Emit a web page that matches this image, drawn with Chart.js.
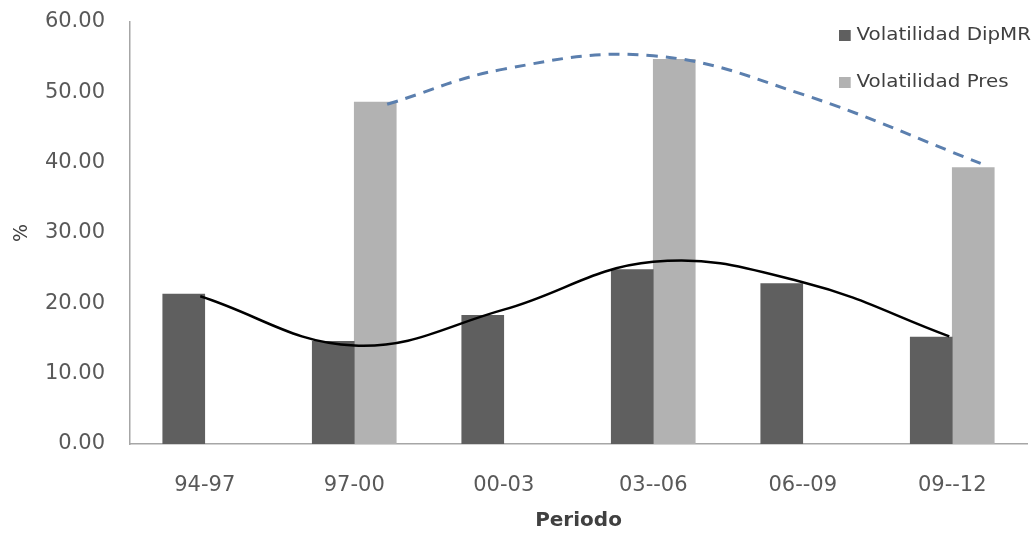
<!DOCTYPE html>
<html>
<head>
<meta charset="utf-8">
<script src="https://cdn.jsdelivr.net/npm/chart.js@4.4.1/dist/chart.umd.min.js"></script>
<style>
  body { margin: 0; background: #fff; }
  #wrap { position: relative; width: 1035px; height: 533px; }
  .leg { position: absolute; left: 839px; font: 17px "DejaVu Sans", sans-serif; color: #404040; white-space: nowrap; transform: scaleX(1.17); transform-origin: 0 0; }
  .leg span { display: inline-block; width: 10px; height: 11px; margin-right: 5px; vertical-align: -1px; }
</style>
</head>
<body>
<div id="wrap">
  <canvas id="myChart" width="1035" height="533"></canvas>
  <div class="leg" style="top:24px"><span style="background:#5f5f5f"></span>Volatilidad DipMR</div>
  <div class="leg" style="top:71px"><span style="background:#b2b2b2"></span>Volatilidad Pres</div>
</div>
<script>
const periods = ["94-97", "97-00", "00-03", "03--06", "06--09", "09--12"];
const dipMR = [21.3, 14.6, 18.3, 24.8, 22.8, 15.2];
const pres = [null, 48.6, null, 54.7, null, 39.3];
// trend lines (x in category units)
const trendDipX = [-0.03, 1, 2, 3, 4, 4.98];
const trendDipY = [21.0, 14.0, 19.1, 25.9, 23.0, 15.3];
const trendPresX = [1.22, 2, 3, 4, 5.19];
const trendPresY = [48.3, 53.3, 55.2, 49.7, 39.9];

const pts = (xs, ys) => xs.map((x, i) => ({ x: x, y: ys[i] }));

const ctx = document.getElementById("myChart");
new Chart(ctx, {
  type: "bar",
  data: {
    labels: periods,
    datasets: [
      {
        type: "line",
        label: "trend Pres",
        data: pts(trendPresX, trendPresY),
        xAxisID: "x2",
        grouped: false,
        borderColor: "#5b7fae",
        borderWidth: 3,
        borderDash: [11, 8],
        pointRadius: 0,
        tension: 0.4,
        fill: false
      },
      {
        type: "line",
        label: "trend DipMR",
        data: pts(trendDipX, trendDipY),
        xAxisID: "x2",
        grouped: false,
        borderColor: "#000000",
        borderWidth: 2.5,
        pointRadius: 0,
        tension: 0.4,
        fill: false
      },
      {
        label: "Volatilidad DipMR",
        data: dipMR,
        backgroundColor: "#5f5f5f",
        barThickness: 42
      },
      {
        label: "Volatilidad Pres",
        data: pres,
        backgroundColor: "#b2b2b2",
        barThickness: 42
      }
    ]
  },
  options: {
    responsive: false,
    animation: false,
    layout: { padding: { top: 22, right: 8, left: 0, bottom: 0 } },
    plugins: {
      legend: { display: false },
      tooltip: { enabled: false }
    },
    scales: {
      x: {
        grid: { display: false, drawTicks: false },
        border: { color: "#a6a6a6", width: 1.5 },
        ticks: { color: "#595959", font: { family: "DejaVu Sans", size: 21 }, padding: 29 },
        title: { display: true, text: "Periodo", color: "#404040", font: { family: "DejaVu Sans", size: 20, weight: "bold" }, padding: { top: 4, bottom: 0 } },
        afterFit: s => { s.height = 89; }
      },
      x2: {
        type: "linear",
        display: false,
        offset: false,
        grid: { offset: false },
        min: -0.5,
        max: 5.5
      },
      y: {
        min: 0,
        max: 60,
        grid: { display: false, drawTicks: true, tickLength: 22 },
        border: { color: "#a6a6a6", width: 1.5 },
        ticks: {
          stepSize: 10,
          color: "#595959",
          font: { family: "DejaVu Sans", size: 21 },
          padding: 3,
          callback: v => v.toFixed(2)
        },
        title: { display: true, text: "%", color: "#404040", font: { family: "DejaVu Sans", size: 19 }, padding: { top: 11, bottom: 4 } },
        afterFit: s => { s.width = 130; }
      }
    }
  }
});
</script>
</body>
</html>
